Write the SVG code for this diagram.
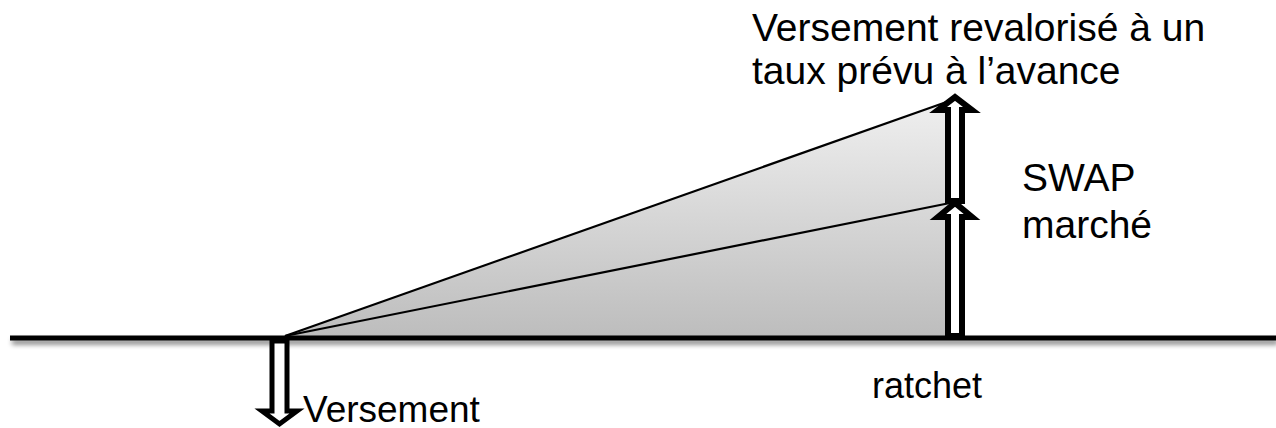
<svg xmlns="http://www.w3.org/2000/svg" width="1276" height="428" viewBox="0 0 1276 428">
<style>
.t{font-family:"Liberation Sans",Arial,sans-serif;fill:#000}
.big{font-size:39px}
.small{font-size:36px}
.arr{fill:#fff;stroke:#000;stroke-width:6;stroke-linejoin:miter;stroke-miterlimit:10}
.ln{stroke:#000;stroke-width:2.2;fill:none}
</style>
<defs>
<linearGradient id="g" x1="0" y1="98" x2="0" y2="336" gradientUnits="userSpaceOnUse">
<stop offset="0" stop-color="#f0f0f0"/>
<stop offset="1" stop-color="#bdbdbd"/>
</linearGradient>
<filter id="sh" filterUnits="userSpaceOnUse" x="0" y="320" width="1276" height="40">
<feGaussianBlur in="SourceAlpha" stdDeviation="2.5"/>
<feOffset dx="2" dy="4" result="b"/>
<feComponentTransfer><feFuncA type="linear" slope="0.5"/></feComponentTransfer>
<feMerge><feMergeNode/><feMergeNode in="SourceGraphic"/></feMerge>
</filter>
</defs>
<g id="area">
<polygon points="285,336 955,99 955,336" fill="url(#g)"/>
</g>
<g id="connectors">
<line class="ln" x1="285" y1="336" x2="955" y2="99"/>
<line class="ln" x1="285" y1="336" x2="955" y2="202"/>
<rect x="10" y="335.5" width="1266" height="5" fill="#000" filter="url(#sh)"/>
</g>
<g id="arrow-up-top">
<polygon class="arr" points="948,201 948,110 938,110 955,97 972,110 962,110 962,201"/>
</g>
<g id="arrow-up-bottom">
<polygon class="arr" points="948,336 948,217 938,217 955,203 972,217 962,217 962,336"/>
</g>
<g id="arrow-down">
<polygon class="arr" style="stroke-width:5" points="272,341 272,411 262,411 279.5,424 297,411 287,411 287,341"/>
</g>
<g id="label-top">
<text class="t big" x="752" y="41">Versement revalorisé à un</text>
<text class="t big" x="752" y="84">taux prévu à l’avance</text>
</g>
<g id="label-swap">
<text class="t big" x="1022" y="191">SWAP</text>
<text class="t big" x="1022" y="238">marché</text>
</g>
<g id="label-ratchet">
<text class="t small" x="872" y="398">ratchet</text>
</g>
<g id="label-versement">
<text class="t" style="font-size:37px" x="303" y="422">Versement</text>
</g>
</svg>
